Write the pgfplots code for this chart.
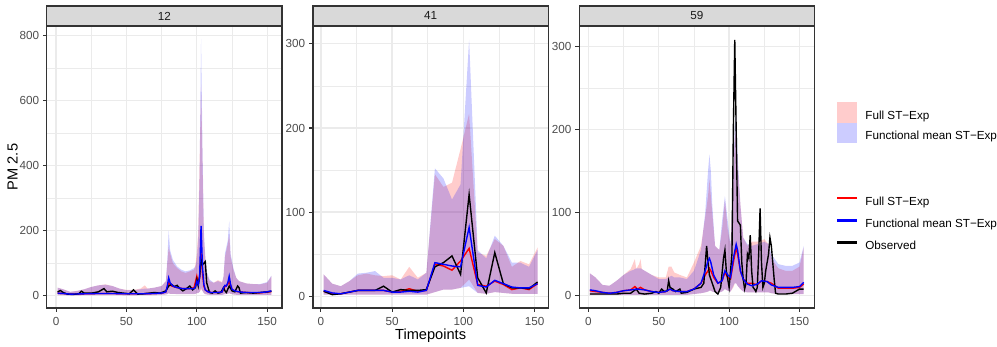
\documentclass[border=0pt]{standalone}
\usepackage{fontspec}
\setmainfont{Liberation Sans}
\usepackage{pgfplots}
\usepackage{pgfplotstable}
\pgfplotsset{compat=1.18}
\usepgfplotslibrary{fillbetween}

\definecolor{grey10}{HTML}{1A1A1A}
\definecolor{grey20}{HTML}{333333}
\definecolor{grey30}{HTML}{4D4D4D}
\definecolor{grey85}{HTML}{D9D9D9}
\definecolor{grey92}{HTML}{EBEBEB}

% ---------- station 12 ----------
\pgfplotstableread{
t rlo rhi blo bhi
1 2 25 2 25
5 2 20 2 20
10 1 12 1 12
15 1 15 1 15
20 2 20 2 20
25 2 27 2 27
30 2 32 2 32
35 2 35 2 34
40 2 30 2 30
45 2 22 2 22
50 1 18 1 17
55 1 18 1 17
60 2 22 2 20
63 2 32 2 22
65 2 22 2 22
70 2 25 2 25
75 3 30 3 30
78 4 45 4 45
79 5 100 5 110
80 8 150 8 200
81 6 130 6 140
83 6 100 6 110
86 5 85 5 90
89 5 75 5 80
92 5 70 5 75
95 5 75 5 78
98 5 80 5 85
99 6 95 6 90
100 8 130 8 110
101 8 200 8 180
102 12 420 12 380
103 20 650 25 790
104 15 420 15 460
105 8 180 8 200
106 5 120 5 120
107 4 70 4 75
109 3 45 3 50
112 3 40 3 40
115 3 48 3 45
118 3 42 3 40
119 4 60 4 60
120 5 120 5 130
122 6 160 6 170
123 8 190 8 230
124 6 120 6 130
126 4 80 4 85
128 3 55 3 55
130 3 45 3 45
135 3 38 3 38
140 3 36 3 36
145 3 35 3 36
150 3 40 3 42
153 3 60 3 62
}\bandA
\pgfplotstableread{
t v
1 8
5 7
10 5
20 6
30 7
40 7
50 6
60 6
70 7
76 9
78 12
80 40
82 30
86 25
90 22
95 22
98 25
100 60
101 40
102 55
103 130
104 70
105 30
106 18
108 12
110 10
115 10
118 12
120 28
122 35
123 45
124 30
125 18
127 14
130 12
135 10
140 9
145 9
150 11
153 13
}\fullA
\pgfplotstableread{
t v
1 8
5 7
10 5
20 6
30 7
40 7
50 6
60 6
70 7
76 9
78 12
79 30
80 55
81 40
83 30
86 25
90 22
95 22
98 22
99 28
100 45
101 35
102 60
103 215
104 90
105 35
106 18
108 12
110 10
115 10
118 12
119 25
120 32
121 30
122 40
123 60
124 35
125 20
127 15
130 12
135 10
140 10
145 10
150 12
153 15
}\fmA
\pgfplotstableread{
t v
1 12
3 16
5 10
8 5
12 4
16 6
18 14
20 8
25 8
30 12
34 22
36 12
40 14
44 10
48 8
52 6
55 18
58 5
62 6
66 8
70 10
74 8
78 15
80 30
82 35
84 28
86 32
88 22
90 15
92 20
95 30
97 18
99 25
100 50
101 30
102 60
103 110
104 95
105 100
106 105
107 40
109 10
111 8
113 15
115 8
117 10
119 25
120 15
121 10
123 30
125 15
127 12
129 30
130 25
131 8
135 10
140 8
145 10
150 12
153 14
}\obsA

% ---------- station 41 ----------
\pgfplotstableread{
t rlo rhi blo bhi
2 2 26 2 26
8 2 15 2 15
14 2 12 2 12
20 2 18 2 18
26 2 25 2 27
32 2 27 2 28
38 2 25 2 30
44 2 24 2 22
50 2 25 2 22
56 2 20 2 20
62 2 35 2 25
68 2 22 2 20
74 2 28 2 28
80 5 145 5 152
86 8 130 8 140
92 8 135 8 115
98 10 175 10 133
104 20 217 12 305
110 4 52 4 55
116 3 48 3 45
122 5 68 5 72
128 4 60 4 60
134 3 35 3 40
140 3 42 3 40
146 3 38 3 35
152 3 58 3 55
}\bandB
\pgfplotstableread{
t v
2 6
8 3
14 3
20 5
26 7
32 7
38 7
44 7
50 5
56 6
62 9
68 6
74 7
80 38
86 36
92 31
98 42
104 57
110 14
116 12
122 18
128 14
134 8
140 10
146 8
152 15
}\fullB
\pgfplotstableread{
t v
2 7
8 4
14 3
20 5
26 7
32 7
38 7
44 7
50 5
56 5
62 6
68 5
74 7
80 40
86 38
92 36
98 35
104 82
110 13
116 11
122 19
128 15
134 11
140 10
146 10
152 15
}\fmB
\pgfplotstableread{
t v
2 6
8 2
14 3
20 5
26 7
32 7
38 7
44 12
50 5
56 8
62 7
68 7
74 8
80 35
86 40
92 48
98 26
104 121
110 22
116 4
122 52
128 15
134 10
140 10
146 9
152 17
}\obsB

% ---------- station 59 ----------
\pgfplotstableread{
t rlo rhi blo bhi
1 1 27 1 27
5 1 22 1 22
10 1 13 1 13
15 1 12 1 12
20 1 18 1 18
25 1 25 1 25
30 1 32 1 30
32 1 40 1 31
33 1 44 1 32
34 1 32 1 33
36 1 38 1 33
37 1 44 1 33
38 1 32 1 32
40 1 30 1 30
45 1 25 1 25
50 1 22 1 20
55 1 22 1 20
57 1 35 1 22
59 1 35 1 24
61 1 28 1 22
65 1 25 1 22
70 1 22 1 20
75 2 40 2 30
80 3 60 3 55
83 4 95 4 100
85 5 120 5 150
86 6 140 6 170
87 6 120 6 150
88 5 100 5 110
90 4 60 4 60
93 4 55 4 55
95 5 80 5 90
97 8 115 8 120
99 6 80 6 90
101 5 60 5 60
103 10 140 12 150
104 15 190 15 205
105 15 200 15 220
106 12 160 12 170
108 8 110 8 110
110 5 70 5 70
113 4 60 4 62
116 4 65 4 60
120 4 65 4 62
125 4 68 4 65
128 4 62 4 62
130 3 45 3 50
135 2 33 2 38
140 2 30 2 36
145 2 30 2 36
150 2 35 2 40
153 2 58 2 60
}\bandC
\pgfplotstableread{
t v
1 6
5 5
10 4
15 3
20 4
25 6
30 7
33 11
35 8
37 10
40 7
45 5
50 4
55 5
58 8
60 6
65 5
70 5
75 8
80 15
83 25
85 30
86 33
87 30
89 22
92 15
95 18
97 28
99 22
101 20
103 40
105 58
106 50
108 30
110 20
113 15
116 15
120 13
123 18
127 17
130 15
135 9
140 9
145 9
150 10
153 14
}\fullC
\pgfplotstableread{
t v
1 7
5 6
10 4
15 3
20 4
25 6
30 7
35 8
40 7
45 5
50 4
55 5
58 8
60 6
65 5
70 5
75 8
80 15
83 30
85 42
86 45
87 40
89 25
92 15
95 18
97 30
99 25
101 22
103 45
105 62
106 55
108 30
110 20
113 14
116 12
120 14
123 18
127 17
130 13
135 10
140 10
145 10
150 11
153 16
}\fmC
\pgfplotstableread{
t v
1 2
10 2
20 2
25 3
30 3
34 8
36 3
40 2
45 3
48 5
50 3
52 8
54 5
56 6
57 18
58 10
60 8
62 5
65 8
66 3
70 4
75 8
80 10
82 15
84 60
85 40
86 25
88 15
90 5
92 2
94 10
96 45
97 55
98 30
99 20
100 10
102 50
103 200
104 308
105 200
106 90
108 85
109 40
110 20
111 8
112 15
113 50
114 45
115 73
116 30
117 10
118 8
119 5
120 10
121 50
122 105
123 40
124 10
125 15
126 30
128 50
129 70
130 60
131 40
132 20
133 3
135 2
140 2
145 3
150 8
153 8
}\obsC

\pgfplotsset{
  panel/.style={
    scale only axis, width=177pt, height=212.25pt, anchor=south west,
    axis line style={draw=grey20, line width=0.9pt},
    tick pos=left, tick align=outside,
    major tick length=2.75pt, minor tick length=0pt,
    every tick/.style={draw=grey20, line width=0.9pt},
    grid=both,
    major grid style={draw=grey92, line width=1pt},
    minor grid style={draw=grey92, line width=0.5pt},
    xtick={0,50,100,150}, minor xtick={25,75,125},
    ticklabel style={font=\fontsize{8.8}{10}\selectfont, text=grey30, inner sep=1pt, text depth=0pt},
    xticklabel style={yshift=-3.4pt},
    yticklabel style={xshift=-1.9pt},
    /pgf/number format/assume math mode=true,
    /pgf/number format/1000 sep={},
    label style={font=\fontsize{11}{13}\selectfont, inner sep=0pt},
  },
  ser/.style={line width=1.05pt},
  legbox/.style={hide axis, scale only axis, width=747.75pt, height=261pt,
    at={(0pt,0pt)}, anchor=south west, xmin=0, xmax=1, ymin=0, ymax=1,
    legend cell align=left,
    legend style={draw=none, fill=none, inner sep=0pt, row sep=0.5pt,
      font=\fontsize{8.8}{10}\selectfont, anchor=north west,
      nodes={inner sep=0pt},
      /tikz/every odd column/.append style={column sep=6.75pt}}},
}

\begin{document}
\begin{tikzpicture}
\path (0pt,0pt) rectangle (747.75pt,261pt);

\begin{axis}[panel, name=p1, at={(35.25pt,29.25pt)},
  xmin=-6.6, xmax=160.6, ymin=-37.7, ymax=830,
  ytick={0,200,400,600,800}, minor ytick={100,300,500,700},
  ylabel={PM 2.5},
  ylabel style={at={(axis description cs:-0.146,0.5)}, anchor=center}]
\addplot[ser, red] table[x=t, y=v] {\fullA};
\addplot[ser, black] table[x=t, y=v] {\obsA};
\addplot[name path=ra, draw=none] table[x=t, y=rhi] {\bandA};
\addplot[name path=rb, draw=none] table[x=t, y=rlo] {\bandA};
\addplot[name path=ba, draw=none] table[x=t, y=bhi] {\bandA};
\addplot[name path=bb, draw=none] table[x=t, y=blo] {\bandA};
\addplot[fill=red, fill opacity=0.2, draw=none] fill between[of=ra and rb];
\addplot[fill=blue, fill opacity=0.2, draw=none] fill between[of=ba and bb];
\addplot[ser, blue] table[x=t, y=v] {\fmA};
\end{axis}

\begin{axis}[panel, name=p2, at={(235.5pt,29.25pt)},
  xmin=-5.5, xmax=159.5, ymin=-13.9, ymax=321.3,
  ytick={0,100,200,300}, minor ytick={50,150,250},
  xlabel={Timepoints},
  xlabel style={at={(axis description cs:0.5,-0.11)}, anchor=base, text height=8pt}]
\addplot[ser, red] table[x=t, y=v] {\fullB};
\addplot[ser, black] table[x=t, y=v] {\obsB};
\addplot[name path=ra, draw=none] table[x=t, y=rhi] {\bandB};
\addplot[name path=rb, draw=none] table[x=t, y=rlo] {\bandB};
\addplot[name path=ba, draw=none] table[x=t, y=bhi] {\bandB};
\addplot[name path=bb, draw=none] table[x=t, y=blo] {\bandB};
\addplot[fill=red, fill opacity=0.2, draw=none] fill between[of=ra and rb];
\addplot[fill=blue, fill opacity=0.2, draw=none] fill between[of=ba and bb];
\addplot[ser, blue] table[x=t, y=v] {\fmB};
\end{axis}

\begin{axis}[panel, name=p3, at={(435.75pt,29.25pt)},
  xmin=-6.6, xmax=160.6, ymin=-14.8, ymax=324.8,
  ytick={0,100,200,300}, minor ytick={50,150,250}]
\addplot[ser, red] table[x=t, y=v] {\fullC};
\addplot[ser, black] table[x=t, y=v] {\obsC};
\addplot[name path=ra, draw=none] table[x=t, y=rhi] {\bandC};
\addplot[name path=rb, draw=none] table[x=t, y=rlo] {\bandC};
\addplot[name path=ba, draw=none] table[x=t, y=bhi] {\bandC};
\addplot[name path=bb, draw=none] table[x=t, y=blo] {\bandC};
\addplot[fill=red, fill opacity=0.2, draw=none] fill between[of=ra and rb];
\addplot[fill=blue, fill opacity=0.2, draw=none] fill between[of=ba and bb];
\addplot[ser, blue] table[x=t, y=v] {\fmC};
\end{axis}

% facet strips
\foreach \p/\lab in {p1/12, p2/41, p3/59} {
  \draw[fill=grey85, draw=grey20, line width=0.9pt] (\p.north west) rectangle ([yshift=15pt]\p.north east);
  \node[font=\fontsize{8.8}{10}\selectfont, text=grey10] at ([yshift=7.5pt]\p.north) {\lab};
}

% legends
\begin{axis}[legbox, legend style={at={(0.8415,0.7054)}}]
\addlegendimage{legend image code/.code={\fill[red!20] (0pt,-4.3pt) rectangle (14.5pt,10.2pt);}}
\addlegendentry{Full ST−Exp}
\addlegendimage{legend image code/.code={\fill[blue!20] (0pt,-4.3pt) rectangle (14.5pt,10.2pt);}}
\addlegendentry{Functional mean ST−Exp}
\end{axis}
\begin{axis}[legbox, legend style={at={(0.8415,0.4613)}}]
\addlegendimage{legend image code/.code={\fill[red] (0pt,2.68pt) rectangle (14.5pt,3.72pt); \path (0pt,-4.7pt) (14.5pt,11.1pt);}}
\addlegendentry{Full ST−Exp}
\addlegendimage{legend image code/.code={\fill[blue] (0pt,2.68pt) rectangle (14.5pt,3.72pt); \path (0pt,-4.7pt) (14.5pt,11.1pt);}}
\addlegendentry{Functional mean ST−Exp}
\addlegendimage{legend image code/.code={\fill[black] (0pt,2.68pt) rectangle (14.5pt,3.72pt); \path (0pt,-4.7pt) (14.5pt,11.1pt);}}
\addlegendentry{Observed}
\end{axis}
\end{tikzpicture}
\end{document}
